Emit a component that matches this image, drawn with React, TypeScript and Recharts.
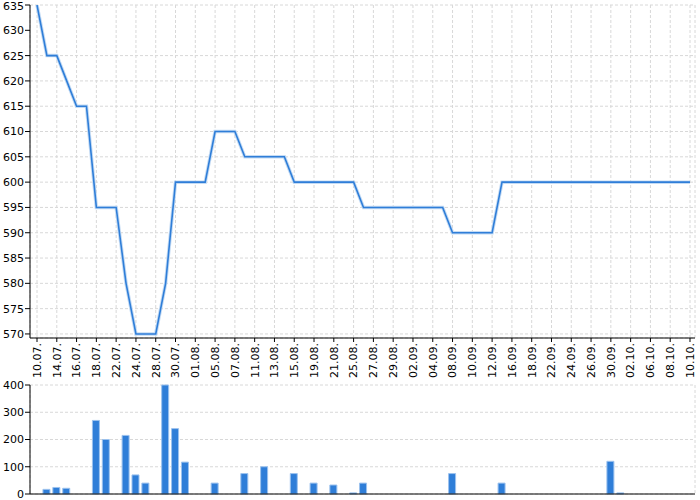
import React from 'react';
import { LineChart, Line, BarChart, Bar, XAxis, YAxis, CartesianGrid } from 'recharts';

// one sample per entry, only every other one gets a label
const dates = [
  '10.07.', '12.07.', '14.07.', '15.07.', '16.07.', '17.07.', '18.07.', '20.07.', '22.07.', '23.07.',
  '24.07.', '26.07.', '28.07.', '29.07.', '30.07.', '31.07.', '01.08.', '03.08.', '05.08.', '06.08.',
  '07.08.', '09.08.', '11.08.', '12.08.', '13.08.', '14.08.', '15.08.', '17.08.', '19.08.', '20.08.',
  '21.08.', '23.08.', '25.08.', '26.08.', '27.08.', '28.08.', '29.08.', '31.08.', '02.09.', '03.09.',
  '04.09.', '06.09.', '08.09.', '09.09.', '10.09.', '11.09.', '12.09.', '14.09.', '16.09.', '17.09.',
  '18.09.', '20.09.', '22.09.', '23.09.', '24.09.', '25.09.', '26.09.', '28.09.', '30.09.', '01.10.',
  '02.10.', '04.10.', '06.10.', '07.10.', '08.10.', '09.10.', '10.10.',
];

const price = [
  635, 625, 625, 620, 615, 615, 595, 595, 595, 580,
  570, 570, 570, 580, 600, 600, 600, 600, 610, 610,
  610, 605, 605, 605, 605, 605, 600, 600, 600, 600,
  600, 600, 600, 595, 595, 595, 595, 595, 595, 595,
  595, 595, 590, 590, 590, 590, 590, 600, 600, 600,
  600, 600, 600, 600, 600, 600, 600, 600, 600, 600,
  600, 600, 600, 600, 600, 600, 600,
];

const volume = [
  0, 17, 24, 21, 0, 0, 270, 200, 0, 215,
  70, 40, 0, 400, 240, 117, 0, 0, 40, 0,
  0, 75, 0, 100, 0, 0, 75, 0, 40, 0,
  33, 0, 4, 40, 0, 0, 0, 0, 0, 0,
  0, 0, 75, 0, 0, 0, 0, 40, 0, 0,
  0, 0, 0, 0, 0, 0, 0, 0, 120, 4,
  0, 0, 0, 0, 0, 0, 0,
];

const priceTicks = [570, 575, 580, 585, 590, 595, 600, 605, 610, 615, 620, 625, 630, 635];
const volumeTicks = [0, 100, 200, 300, 400];
// labelled positions: every second sample
const labelIdx = dates.map((_, i) => i).filter((i) => i % 2 === 0);

const data = dates.map((d, i) => ({ idx: i, date: d, price: price[i], volume: volume[i] }));

const BLUE = '#2f7ed8';
const axisTick = { fill: '#000', fontSize: 11 };
const lastIdx = dates.length - 1;

const DateTick = (props: any) => {
  const { x, y, payload } = props;
  return (
    <g transform={`translate(${x},${y + 1})`}>
      <text transform="rotate(-90)" textAnchor="end" dy="0.35em" fontSize={11} fill="#000">
        {dates[payload.value]}
      </text>
    </g>
  );
};

export default function App() {
  return (
    <div style={{ width: 700, height: 500, fontFamily: '"DejaVu Sans", sans-serif' }}>
      <style>{'body{margin:0}'}</style>
      <LineChart width={700} height={378} data={data} margin={{ top: 5, right: 5, left: 0, bottom: 0 }}>
        <CartesianGrid stroke="#d8d8d8" strokeDasharray="3 2" />
        <XAxis
          dataKey="idx"
          type="number"
          domain={[0, lastIdx]}
          padding={{ left: 7, right: 5 }}
          ticks={labelIdx}
          interval={0}
          height={40}
          tickSize={4}
          tickMargin={0}
          stroke="#000"
          tick={<DateTick />}
        />
        <YAxis
          domain={[569.2, 635]}
          ticks={priceTicks}
          width={30}
          tickSize={5}
          tickMargin={1}
          stroke="#000"
          tick={axisTick}
          allowDataOverflow
        />
        {/* soft halo under the line */}
        <Line type="linear" dataKey="price" stroke="#c4dbf4" strokeWidth={3.5} dot={false} activeDot={false} isAnimationActive={false} />
        <Line type="linear" dataKey="price" stroke={BLUE} strokeWidth={1.6} dot={false} isAnimationActive={false} />
      </LineChart>
      <BarChart width={700} height={122} data={data} margin={{ top: 7, right: 5, left: 0, bottom: 0 }}>
        <CartesianGrid stroke="#d8d8d8" strokeDasharray="3 2" />
        <XAxis
          dataKey="idx"
          type="number"
          domain={[0, lastIdx]}
          padding={{ left: 7, right: 5 }}
          ticks={labelIdx}
          interval={0}
          height={6}
          tick={false}
          tickLine={false}
          stroke="#000"
        />
        <YAxis
          domain={[0, 400]}
          ticks={volumeTicks}
          width={30}
          tickSize={5}
          tickMargin={1}
          stroke="#000"
          tick={axisTick}
        />
        <Bar dataKey="volume" fill={BLUE} stroke="#9cc2ee" strokeWidth={1} barSize={7} isAnimationActive={false} />
      </BarChart>
    </div>
  );
}
